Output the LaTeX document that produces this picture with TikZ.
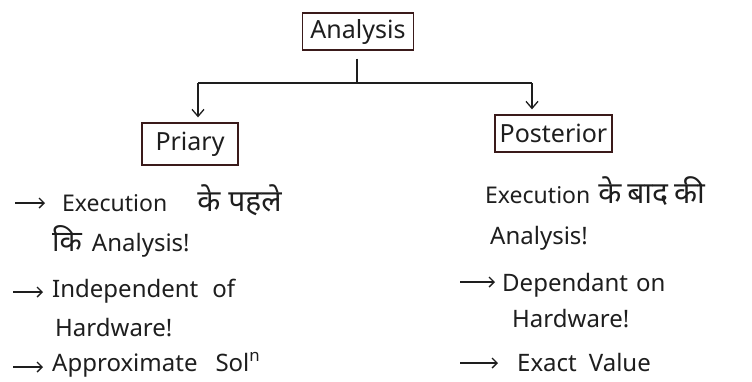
\documentclass[tikz,border=0pt]{standalone}
\usepackage{fontspec}
\setmainfont{Noto Sans}
\newfontfamily\hi[Script=Devanagari]{Noto Sans}
\usetikzlibrary{arrows.meta}
\definecolor{ink}{HTML}{1E1E1E}
\definecolor{boxink}{HTML}{3A1A1A}
\tikzset{
  x=1pt,y=1pt,
  boxnode/.style={draw=boxink,line width=1.3pt,inner sep=2pt,font=\fontsize{25}{28}\selectfont,text=ink},
  txt/.style={anchor=base west,inner sep=0pt,font=\fontsize{24}{28}\selectfont,text=ink},
  link/.style={draw=ink,line width=1.3pt},
  down/.style={link,-{Straight Barb[length=7pt,width=12pt,line width=1.3pt]}},
  bul/.style={draw=ink,line width=1.4pt,-{Straight Barb[length=5pt,width=10pt,line width=1.4pt]}}
}
\begin{document}
\begin{tikzpicture}
\useasboundingbox (0,0) rectangle (752,-381);
\fill[white] (0,0) rectangle (752,-381);
% boxes
\node[boxnode,minimum width=111pt,minimum height=37pt] (ana) at (358,-31.5) {Analysis};
\node[boxnode,minimum width=96pt,minimum height=42pt] (pri) at (190,-144) {Priary};
\node[boxnode,minimum width=117pt,minimum height=37pt] (pos) at (553.5,-133.5) {Posterior};
% connectors
\coordinate (j) at (357,-83);
\coordinate (jl) at (198,-83);
\coordinate (jr) at (532,-83);
\draw[link] ([yshift=-8pt]ana.south -| j) -- (j);
\draw[link] (jl) -- (jr);
\draw[down,shorten >=5pt] (jl) -- (jl |- pri.north);
\draw[down,shorten >=5pt] (jr) -- (jr |- pos.north);
% left text
\node[txt,font=\fontsize{23}{26}\selectfont] (l1) at (62,-211) {Execution\hspace{30pt}{\hi\fontsize{30}{32}\selectfont के\hspace{8pt}पहले}};
\node[txt] (l2) at (52,-251) {{\hi\fontsize{29}{32}\selectfont कि}\hspace{10pt}Analysis!};
\node[txt] (l3) at (52,-297) {Independent\hspace{14pt}of};
\node[txt] (l4) at (55,-336) {Hardware!};
\node[txt] (l5) at (52,-371) {Approximate\hspace{18pt}Sol\textsuperscript{n}};
% right text
\node[txt,font=\fontsize{23}{26}\selectfont] (r1) at (485,-203) {Execution\hspace{8pt}{\hi\fontsize{30}{32}\selectfont के\hspace{6pt}बाद\hspace{6pt}की}};
\node[txt] (r2) at (490,-244) {Analysis!};
\node[txt] (r3) at (502,-291) {Dependant\hspace{8pt}on};
\node[txt] (r4) at (512,-327) {Hardware!};
\node[txt] (r5) at (517,-371) {Exact\hspace{12pt}Value};
% bullet arrows
\draw[bul] (15,-203) -- (45,-203);
\draw[bul] (13,-292) -- (43,-292);
\draw[bul] (13,-367) -- (43,-367);
\draw[bul] (460,-282) -- (495,-282);
\draw[bul] (460,-363) -- (498,-363);
\end{tikzpicture}
\end{document}
